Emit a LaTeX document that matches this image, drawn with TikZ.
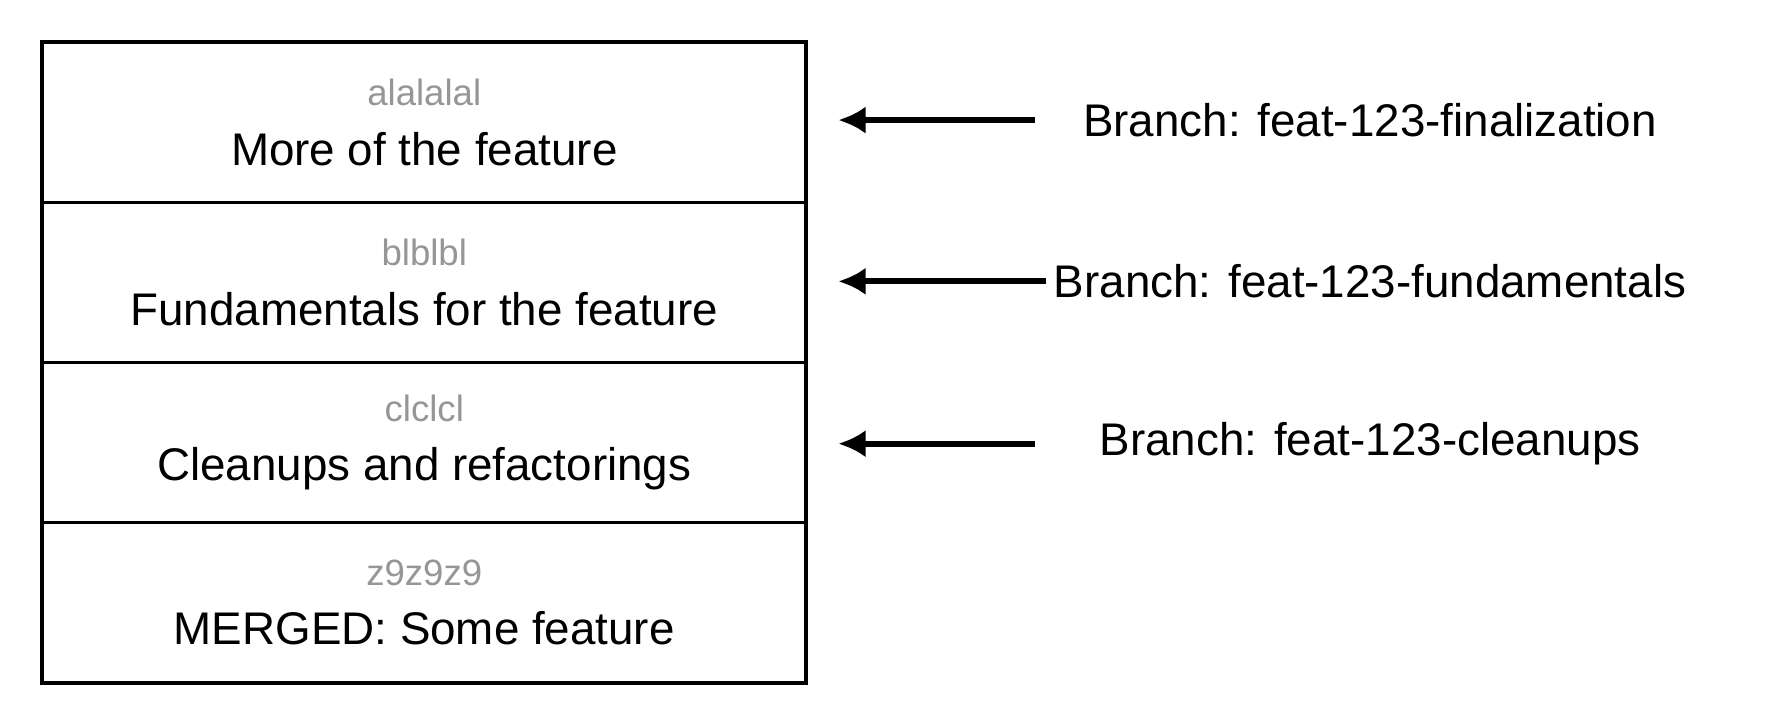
\documentclass[tikz,border=0pt]{standalone}
\usepackage{fontspec}
\setmainfont{Liberation Sans}
\usetikzlibrary{positioning,arrows.meta}
\definecolor{shagray}{RGB}{150,150,150}
\tikzset{
  commit/.style={draw,line width=1.6pt,minimum width=334pt,minimum height=70pt,inner sep=0pt,outer sep=0pt,align=center,font=\fontsize{20}{26}\selectfont},
  branch/.style={font=\fontsize{20}{24}\selectfont},
  ptr/.style={-{Latex[length=12pt,width=12pt]},line width=2.6pt}
}
\newcommand{\sha}[1]{\textcolor{shagray}{\fontsize{16}{20}\selectfont #1}}
\begin{document}
\begin{tikzpicture}[x=0.5pt,y=-0.5pt]
  \useasboundingbox (0,0) rectangle (1560,633);
  \node[commit] (r1) at (371,107) {\sha{alalalal}\\More of the feature};
  \node[commit,below=0pt of r1] (r2) {\sha{blblbl}\\Fundamentals for the feature};
  \node[commit,below=0pt of r2] (r3) {\sha{clclcl}\\Cleanups and refactorings};
  \node[commit,below=0pt of r3] (r4) {\sha{z9z9z9}\\MERGED: Some feature};
  \node[branch] (b1) at (1198,105) {Branch: feat-123-finalization};
  \node[branch] (b2) at (1198,246) {Branch: feat-123-fundamentals};
  \node[branch] (b3) at (1198,388) {Branch: feat-123-cleanups};
  \coordinate (t1) at (733,105);
  \coordinate (t2) at (733,246);
  \coordinate (t3) at (733,388);
  \draw[ptr] (905,105) -- (t1);
  \draw[ptr] (b2.west) -- (t2);
  \draw[ptr] (905,388) -- (t3);
\end{tikzpicture}
\end{document}
